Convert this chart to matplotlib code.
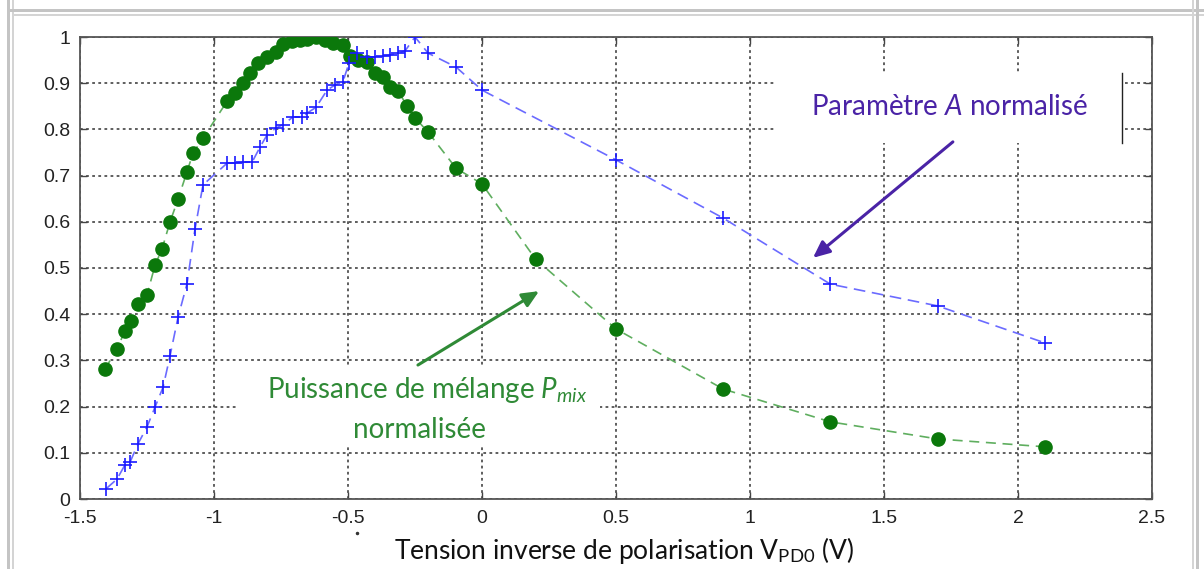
import matplotlib.pyplot as plt
from matplotlib.patches import Rectangle
from matplotlib.lines import Line2D

# normalised mixing power P_mix
v_pmix = [-1.407, -1.362, -1.332, -1.310, -1.284, -1.250, -1.220, -1.194, -1.164,
          -1.134, -1.101, -1.078, -1.041, -0.951, -0.922, -0.892, -0.866, -0.836,
          -0.802, -0.769, -0.743, -0.709, -0.679, -0.653, -0.619, -0.586, -0.556,
          -0.519, -0.493, -0.463, -0.429, -0.399, -0.369, -0.343, -0.313, -0.280,
          -0.250, -0.201, -0.097, 0.0, 0.2, 0.5, 0.9, 1.3, 1.7, 2.1]
pmix = [0.281, 0.325, 0.364, 0.385, 0.422, 0.442, 0.506, 0.541, 0.600,
        0.649, 0.708, 0.749, 0.781, 0.861, 0.879, 0.900, 0.922, 0.944,
        0.957, 0.968, 0.985, 0.991, 0.994, 0.996, 1.0, 0.994, 0.987,
        0.983, 0.959, 0.950, 0.946, 0.922, 0.913, 0.892, 0.883, 0.851,
        0.825, 0.794, 0.716, 0.682, 0.519, 0.368, 0.238, 0.167, 0.130, 0.113]

# normalised parameter A
v_a = [-1.403, -1.362, -1.332, -1.313, -1.284, -1.250, -1.220, -1.190, -1.164,
       -1.134, -1.101, -1.071, -1.041, -0.951, -0.922, -0.892, -0.858, -0.828,
       -0.802, -0.769, -0.743, -0.705, -0.672, -0.653, -0.619, -0.578, -0.549,
       -0.519, -0.496, -0.466, -0.429, -0.399, -0.369, -0.343, -0.313, -0.287,
       -0.250, -0.201, -0.097, 0.0, 0.5, 0.9, 1.3, 1.7, 2.1]
param_a = [0.022, 0.043, 0.074, 0.080, 0.119, 0.156, 0.199, 0.242, 0.310,
           0.394, 0.465, 0.584, 0.680, 0.727, 0.727, 0.729, 0.729, 0.762,
           0.788, 0.803, 0.810, 0.827, 0.827, 0.835, 0.848, 0.885, 0.896,
           0.903, 0.944, 0.965, 0.957, 0.957, 0.959, 0.961, 0.965, 0.970,
           1.0, 0.965, 0.935, 0.885, 0.734, 0.608, 0.465, 0.418, 0.338]

x_ticks = [-1.5, -1, -0.5, 0, 0.5, 1, 1.5, 2, 2.5]
x_ticklabels = ['-1.5', '-1', '-0.5', '0', '0.5', '1', '1.5', '2', '2.5']
y_ticks = [0, 0.1, 0.2, 0.3, 0.4, 0.5, 0.6, 0.7, 0.8, 0.9, 1]
y_ticklabels = ['0', '0.1', '0.2', '0.3', '0.4', '0.5', '0.6', '0.7', '0.8', '0.9', '1']

plt.rcParams['mathtext.fontset'] = 'custom'
plt.rcParams['mathtext.rm'] = 'Lato'
plt.rcParams['mathtext.it'] = 'Lato:italic'

W, H = 1204, 569
fig = plt.figure(figsize=(W / 100, H / 100), dpi=100)

# grey double frame around the picture
def band(x, y, w, h, c):
    fig.patches.append(Rectangle((x, y), w, h, transform=fig.transFigure,
                                 color=c, lw=0))

band(7 / W, -0.1, 3 / W, 1.2, '#c4c4c4')
band(12 / W, -0.1, 1.5 / W, 1.2, '#d4d4d4')
band(7 / W, 1 - 12 / H, 1.2, 3 / H, '#c4c4c4')
band(12 / W, 1 - 15.5 / H, 1.2, 1.5 / H, '#d4d4d4')
band(1196 / W, -0.1, 3 / W, 1.2, '#c4c4c4')
band(1192 / W, -0.1, 1.5 / W, 1.2, '#d4d4d4')

ax = fig.add_axes([80 / W, 1 - 499 / H, 1072 / W, 462 / H])

ax.plot(v_pmix, pmix, linestyle=(0, (6, 4)), color='#5fae5f', lw=1.2, zorder=3)
ax.plot(v_pmix, pmix, linestyle='none', marker='o', ms=9.5,
        mfc='#0b780b', mec='#0b780b', zorder=4)
ax.plot(v_a, param_a, linestyle=(0, (7, 4)), color='#6b6bff', lw=1.2, zorder=3)
ax.plot(v_a, param_a, linestyle='none', marker='+', ms=9.5, mew=1.2,
        color='#1a1aff', zorder=4)

ax.set_xlim(-1.5, 2.5)
ax.set_ylim(0, 1)
ax.set_xticks(x_ticks, x_ticklabels)
ax.set_yticks(y_ticks, y_ticklabels)
ax.tick_params(direction='in', length=5, width=1, color='#444444',
               labelsize=14, labelcolor='#222222', top=True, right=True,
               labeltop=False, labelright=False, labelfontfamily='Liberation Sans')
ax.tick_params(axis='x', pad=8)
ax.tick_params(axis='y', pad=7)
ax.grid(True, linestyle=(0, (1.8, 2.2)), color='#333333', lw=1.1)
ax.set_axisbelow(True)
for s in ax.spines.values():
    s.set_color('#555555')
    s.set_linewidth(1.3)

# white text boxes hiding the grid
ax.add_patch(Rectangle((0.648, 0.771), 0.324, 0.151, transform=ax.transAxes,
                       facecolor='white', edgecolor='none', zorder=1))
ax.add_line(Line2D([0.972, 0.972], [0.771, 0.922], transform=ax.transAxes,
                   color='#222222', lw=1, zorder=1.5))
ax.add_patch(Rectangle((0.147, 0.117), 0.338, 0.173, transform=ax.transAxes,
                       facecolor='white', edgecolor='none', zorder=1))

purple = '#4a23a6'
dkgreen = '#2f8a36'
ax.text(0.811, 0.848, r'Paramètre $\mathit{A}$ normalisé', transform=ax.transAxes,
        ha='center', va='center', fontsize=20, family='Lato', color=purple, zorder=5)
ax.annotate('', xy=(1.235, 0.522), xytext=(1.757, 0.773),
            arrowprops=dict(arrowstyle='-|>,head_length=1.0,head_width=0.45',
                            color=purple, lw=2.2, shrinkA=0, shrinkB=0), zorder=5)

ax.text(0.324, 0.236, r'Puissance de mélange $\mathit{P}_{\mathit{mix}}$',
        transform=ax.transAxes, ha='center', va='center', fontsize=20,
        family='Lato', color=dkgreen, zorder=5)
ax.text(0.317, 0.149, 'normalisée', transform=ax.transAxes, ha='center',
        va='center', fontsize=20, family='Lato', color=dkgreen, zorder=5)
ax.annotate('', xy=(0.213, 0.45), xytext=(-0.239, 0.29),
            arrowprops=dict(arrowstyle='-|>,head_length=1.0,head_width=0.45',
                            color=dkgreen, lw=2.2, shrinkA=0, shrinkB=0), zorder=5)

fig.text(624 / W, 1 - 550 / H, r'Tension inverse de polarisation V$_{\mathrm{PD0}}$ (V)',
         ha='center', va='center', fontsize=19, family='Lato', color='#111111')
fig.lines.append(Line2D([357 / W], [1 - 533 / H], transform=fig.transFigure,
                        marker='o', ms=1.5, color='#333333', lw=0))

fig.savefig('out.png', dpi=100)
